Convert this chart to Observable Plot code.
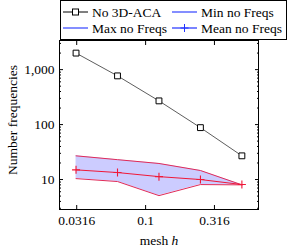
<!DOCTYPE html>
<html>
<head>
<meta charset="utf-8">
<script src="https://cdn.jsdelivr.net/npm/d3@7"></script>
<script src="https://cdn.jsdelivr.net/npm/@observablehq/plot@0.6"></script>
<style>
  html, body { margin: 0; padding: 0; background: white; }
  #wrap { position: relative; width: 289px; height: 250px; font-family: "Liberation Serif", serif; }
  #legend { position: absolute; left: 60px; top: 0px; }
  svg text { font-family: "Liberation Serif", serif !important; }
</style>
</head>
<body>
<div id="wrap"></div>
<script>
// ---- data ----
const mesh = [0.03125, 0.0625, 0.125, 0.25, 0.5];
const noACA = [2000, 770, 270, 88, 27];
const minFreqs = [10.4, 9.2, 5.1, 8.1, 8.0];
const maxFreqs = [27, 23, 19.6, 14.6, 8.0];
const meanFreqs = [15, 13.4, 11.3, 10, 8.1];
const xTicks = [0.0316, 0.1, 0.316];
const xTickLabels = ["0.0316", "0.1", "0.316"];
const yTicks = [10, 100, 1000];
const yTickLabels = ["10", "100", "1,000"];
const yMinorTicks = [3,4,5,6,7,8,9,20,30,40,50,60,70,80,90,200,300,400,500,600,700,800,900,2000,3000];
const seriesNames = ["No 3D-ACA", "Min no Freqs", "Max no Freqs", "Mean no Freqs"];

const rows = mesh.map((h, i) => ({h, aca: noACA[i], min: minFreqs[i], max: maxFreqs[i], mean: meanFreqs[i]}));

const plusSymbol = {
  draw(ctx, size) {
    const s = Math.sqrt(size / Math.PI);
    ctx.moveTo(-s, 0); ctx.lineTo(s, 0);
    ctx.moveTo(0, -s); ctx.lineTo(0, s);
  }
};

const font = "'Liberation Serif', serif";
const fs = 13.5;
const bandColor = "#e02a58";
const meanColor = "#f01838";

const chart = Plot.plot({
  width: 289,
  height: 250,
  marginLeft: 59,
  marginRight: 31,
  marginTop: 40,
  marginBottom: 41,
  style: {fontFamily: font, fontSize: fs + "px", background: "white", color: "black", overflow: "visible"},
  x: {type: "log", domain: [0.0237, 0.66]},
  y: {type: "log", domain: [2.85, 3390]},
  marks: [
    Plot.areaY(rows, {x: "h", y1: "min", y2: "max", fill: "#ccccff"}),
    Plot.lineY(rows, {x: "h", y: "max", stroke: bandColor, strokeWidth: 1}),
    Plot.lineY(rows, {x: "h", y: "min", stroke: bandColor, strokeWidth: 1}),
    Plot.lineY(rows, {x: "h", y: "mean", stroke: meanColor, strokeWidth: 1}),
    Plot.dot(rows, {x: "h", y: "mean", symbol: plusSymbol, r: 4, stroke: meanColor, fill: "none", strokeWidth: 1.1}),
    Plot.lineY(rows, {x: "h", y: "aca", stroke: "#333", strokeWidth: 0.8}),
    Plot.dot(rows, {x: "h", y: "aca", symbol: "square", r: 3.3, stroke: "black", fill: "white", strokeWidth: 1}),
    // axes
    Plot.axisY({anchor: "left", ticks: yTicks, tickSize: -4, tickPadding: 9, tickFormat: (d) => yTickLabels[yTicks.indexOf(d)], label: null, fontSize: fs}),
    Plot.axisY({anchor: "left", ticks: yMinorTicks, tickSize: -2, tickFormat: () => "", label: null}),
    Plot.axisY({anchor: "right", ticks: yTicks, tickSize: -4, tickFormat: () => "", label: null}),
    Plot.axisY({anchor: "right", ticks: yMinorTicks, tickSize: -2, tickFormat: () => "", label: null}),
    Plot.axisX({anchor: "bottom", ticks: xTicks, tickSize: -4, tickPadding: 10, tickFormat: (d) => xTickLabels[xTicks.indexOf(d)], label: null, fontSize: fs}),
    Plot.axisX({anchor: "top", ticks: xTicks, tickSize: -4, tickFormat: () => "", label: null}),
    Plot.frame({stroke: "black", strokeWidth: 1}),
    Plot.text(["Number frequencies"], {frameAnchor: "left", rotate: -90, dx: -47, dy: -5, textAnchor: "middle", lineAnchor: "middle", text: d => d, fontSize: fs}),
    Plot.text(["mesh h"], {frameAnchor: "bottom", dy: 31, textAnchor: "middle", lineAnchor: "middle", text: d => d, fontSize: fs})
  ]
});

document.getElementById("wrap").appendChild(chart);

// italic h in x label
d3.select(chart).selectAll("text").filter(function() { return this.textContent === "mesh h"; })
  .each(function() {
    const t = d3.select(this);
    t.text("");
    t.append("tspan").text("mesh ");
    t.append("tspan").attr("font-style", "italic").text("h");
  });

// legend
const lg = d3.select("#wrap").append("svg")
  .attr("id", "legend")
  .attr("width", 227).attr("height", 40)
  .style("font-family", font).style("font-size", fs + "px");
lg.append("rect").attr("x", 0.5).attr("y", 0.5).attr("width", 226).attr("height", 39)
  .attr("fill", "white").attr("stroke", "black");
const entries = [
  {name: seriesNames[0], col: 0, row: 0, color: "black", mark: "square"},
  {name: seriesNames[1], col: 1, row: 0, color: "#3344ff", mark: null},
  {name: seriesNames[2], col: 0, row: 1, color: "#3344ff", mark: null},
  {name: seriesNames[3], col: 1, row: 1, color: "#2233ff", mark: "plus"}
];
const colX = [3, 112];
const rowY = [12, 28];
entries.forEach(e => {
  const x0 = colX[e.col], y0 = rowY[e.row];
  const g = lg.append("g");
  g.append("line").attr("x1", x0).attr("x2", x0 + 25).attr("y1", y0).attr("y2", y0)
    .attr("stroke", e.color).attr("stroke-width", e.mark === "square" ? 1 : 1.2);
  if (e.mark === "square") {
    g.append("rect").attr("x", x0 + 12.5 - 3).attr("y", y0 - 3).attr("width", 6).attr("height", 6)
      .attr("fill", "white").attr("stroke", "black");
  } else if (e.mark === "plus") {
    g.append("path").attr("d", `M${x0 + 12.5 - 4},${y0}h8M${x0 + 12.5},${y0 - 4}v8`)
      .attr("stroke", e.color).attr("fill", "none");
  }
  g.append("text").attr("x", x0 + 29).attr("y", y0).attr("dy", "0.35em").text(e.name);
});
</script>
</body>
</html>
